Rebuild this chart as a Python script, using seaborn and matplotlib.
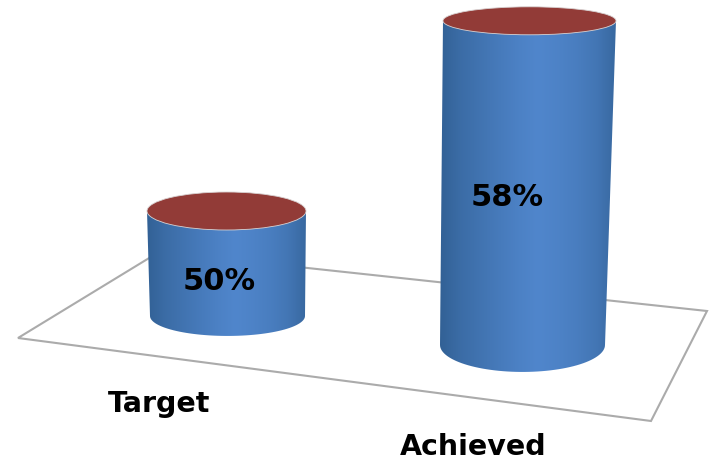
import matplotlib.pyplot as plt
import matplotlib.patches as mpatches
from matplotlib.transforms import Affine2D
import seaborn as sns
import pandas as pd
import numpy as np

categories = ["Target", "Achieved"]
values = [50, 58]
bar_labels = ["50%", "58%"]

sns.set_theme(style="white")
plt.rcParams["font.family"] = "DejaVu Sans"

W, H = 711, 462
fig = plt.figure(figsize=(W / 100, H / 100), dpi=100)
ax = fig.add_axes([0, 0, 1, 1])

df = pd.DataFrame({"category": categories, "value": values})

# axis is cut off well above zero, the 3d chart exaggerates the difference
base = 46.17
scale = 27.4  # px per percent
sns.barplot(df, x="category", y="value", ax=ax, width=0.54, color="#4f81bd",
            bottom=base, saturation=1)

px_per_cat = 296
xlim = (-226 / px_per_cat, (W - 226) / px_per_cat)
ylim = (50 + (211 - H) / scale, 50 + 211 / scale)
ax.set_xlim(xlim)
ax.set_ylim(ylim)
ax.set_axis_off()

# picture pixels, y pointing down
pix = Affine2D().scale(1, -1).translate(0, H)

floor = [(18, 338), (159, 252), (707, 311), (651, 421)]
ax.add_patch(mpatches.Polygon(floor, closed=True, fill=False, ec="#ababab", lw=1.5,
                              transform=pix, zorder=1))

# top left/right, bottom left/right, baseline shift, top ry, bottom ry
geom = [(147, 306, 150, 305, 0, 19, 20), (443, 616, 440, 605, 29, 14, 27)]
shade = np.array([0.12, 0.38, 0.55, 0.72, 0.88, 1.0, 0.92, 0.8, 0.62, 0.3])
dark = np.array([46, 92, 142]) / 255
light = np.array([80, 134, 204]) / 255
ramp = dark + (light - dark) * np.interp(np.linspace(0, 1, 256), np.linspace(0, 1, len(shade)), shade)[:, None]

for bar, val, (xt0, xt1, xb0, xb1, dy, ryt, ryb) in zip(ax.patches, values, geom):
    top_px = H - ax.transData.transform((0, val))[1]
    bot_px = top_px + (val - base) * scale
    top_px += dy
    bot_px += dy
    bar.set_visible(False)

    cxb, rxb = (xb0 + xb1) / 2, (xb1 - xb0) / 2
    cxt = (xt0 + xt1) / 2
    arc = [(cxb - rxb * np.cos(t), bot_px + ryb * np.sin(t)) for t in np.linspace(0, np.pi, 60)]
    body = mpatches.Path([(xt0, top_px)] + arc + [(xt1, top_px), (xt0, top_px)])
    x0, x1 = min(xt0, xb0), max(xt1, xb1)
    img = ax.imshow(ramp[None, :, :], extent=(x0, x1, bot_px + ryb, top_px), transform=pix,
                    aspect="auto", zorder=2, interpolation="bilinear")
    img.set_clip_path(mpatches.PathPatch(body, transform=pix))
    ax.add_patch(mpatches.Ellipse((cxt, top_px), xt1 - xt0, 2 * ryt, fc="#923b37", ec="#d8d2d2",
                                  lw=0.6, transform=pix, zorder=3))

ax.set_xlim(xlim)
ax.set_ylim(ylim)

for lab, x, y in zip(bar_labels, [219, 507], [281, 198]):
    ax.text(x, y, lab, transform=pix, ha="center", va="center", fontsize=22,
            fontweight="bold", color="black", zorder=4)
for cat, x, y in zip(categories, [159, 473], [404, 447]):
    ax.text(x, y, cat, transform=pix, ha="center", va="center", fontsize=20.5,
            fontweight="bold", color="black", zorder=4)

plt.savefig("out.png", dpi=100)
